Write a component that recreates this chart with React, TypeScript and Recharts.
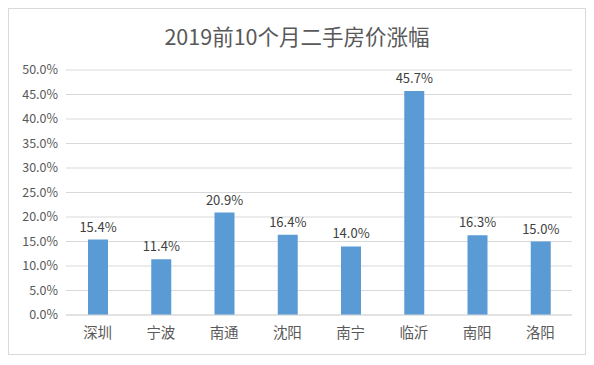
import { BarChart, Bar, XAxis, YAxis, CartesianGrid, LabelList } from 'recharts'

const cities = ['深圳', '宁波', '南通', '沈阳', '南宁', '临沂', '南阳', '洛阳']
const rises = [15.4, 11.4, 20.9, 16.4, 14.0, 45.7, 16.3, 15.0]
const yTicks = [0, 5, 10, 15, 20, 25, 30, 35, 40, 45, 50]

const chartData = cities.map((city, i) => ({ city, rise: rises[i] }))

const font = '"Noto Sans CJK SC", "Microsoft YaHei", sans-serif'

export default function App() {
  return (
    <div style={{ position: 'relative', width: 576, height: 345, border: '1px solid #d9d9d9', fontFamily: font }}>
      <div style={{ position: 'absolute', top: 11, left: 0, width: 576, textAlign: 'center', fontSize: 21.5, color: '#595959' }}>
        2019前10个月二手房价涨幅
      </div>
      <BarChart width={576} height={345} data={chartData} margin={{ top: 61, right: 13, bottom: 0, left: 0 }}>
        <CartesianGrid vertical={false} stroke="#d9d9d9" />
        <XAxis
          dataKey="city"
          height={39}
          tickLine={false}
          axisLine={{ stroke: '#d9d9d9' }}
          tick={{ fill: '#595959', fontSize: 14.5, fontFamily: font }}
          tickMargin={7}
        />
        <YAxis
          width={57}
          domain={[0, 50]}
          ticks={yTicks}
          axisLine={false}
          tickLine={false}
          tickFormatter={(v: number) => `${v.toFixed(1)}%`}
          tick={{ fill: '#595959', fontSize: 12.5, fontFamily: font }}
        />
        <Bar dataKey="rise" fill="#5b9bd5" barSize={20} isAnimationActive={false}>
          <LabelList
            dataKey="rise"
            position="top"
            offset={8}
            formatter={(v: number) => `${v.toFixed(1)}%`}
            style={{ fill: '#404040', fontSize: 13, fontFamily: font }}
          />
        </Bar>
      </BarChart>
    </div>
  )
}
